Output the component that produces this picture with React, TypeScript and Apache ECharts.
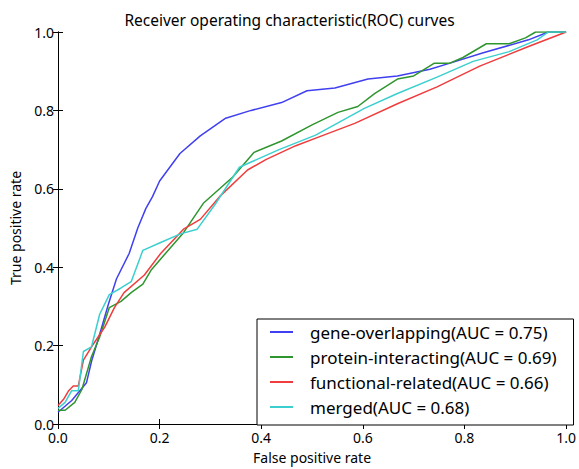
import React, { useEffect, useRef } from "react";
import * as echarts from "echarts";

const chartTitle = "Receiver operating characteristic(ROC) curves";
const xAxisName = "False positive rate";
const yAxisName = "True positive rate";

const seriesNames = [
  "gene-overlapping(AUC = 0.75)",
  "protein-interacting(AUC = 0.69)",
  "functional-related(AUC = 0.66)",
  "merged(AUC = 0.68)",
];
const seriesColors = ["#4040f0", "#2f962f", "#f03c3c", "#3ccfcf"];

const geneFpr = [0, 0.027, 0.043, 0.056, 0.066, 0.08, 0.099, 0.115, 0.14, 0.157, 0.173, 0.186, 0.2, 0.24, 0.28, 0.33, 0.38, 0.44, 0.49, 0.545, 0.61, 0.668, 0.732, 0.77, 0.837, 0.926, 0.965, 1];
const geneTpr = [0.03, 0.06, 0.085, 0.105, 0.16, 0.22, 0.305, 0.37, 0.435, 0.5, 0.55, 0.58, 0.62, 0.69, 0.735, 0.78, 0.8, 0.82, 0.85, 0.857, 0.88, 0.888, 0.905, 0.92, 0.947, 0.98, 1.0, 1.0];

const proteinFpr = [0, 0.014, 0.033, 0.047, 0.066, 0.082, 0.101, 0.124, 0.144, 0.167, 0.183, 0.208, 0.247, 0.286, 0.344, 0.386, 0.44, 0.5, 0.551, 0.59, 0.623, 0.668, 0.7, 0.74, 0.77, 0.797, 0.843, 0.888, 0.92, 0.94, 1];
const proteinTpr = [0.035, 0.035, 0.055, 0.088, 0.172, 0.222, 0.297, 0.313, 0.335, 0.357, 0.392, 0.43, 0.488, 0.563, 0.63, 0.693, 0.722, 0.763, 0.795, 0.81, 0.843, 0.88, 0.888, 0.92, 0.92, 0.935, 0.97, 0.97, 0.985, 1.0, 1.0];

const functionalFpr = [0, 0.011, 0.021, 0.03, 0.04, 0.05, 0.066, 0.092, 0.111, 0.13, 0.17, 0.202, 0.247, 0.28, 0.318, 0.373, 0.41, 0.468, 0.519, 0.584, 0.668, 0.746, 0.83, 0.926, 1];
const functionalTpr = [0.047, 0.063, 0.085, 0.097, 0.097, 0.163, 0.197, 0.247, 0.297, 0.335, 0.38, 0.435, 0.497, 0.522, 0.58, 0.648, 0.675, 0.71, 0.735, 0.767, 0.817, 0.86, 0.913, 0.963, 1.0];

const mergedFpr = [0, 0.014, 0.027, 0.04, 0.05, 0.066, 0.082, 0.101, 0.124, 0.144, 0.167, 0.202, 0.241, 0.274, 0.309, 0.357, 0.435, 0.507, 0.603, 0.668, 0.746, 0.817, 0.888, 0.943, 0.965, 1];
const mergedTpr = [0.04, 0.055, 0.085, 0.085, 0.185, 0.197, 0.28, 0.33, 0.347, 0.363, 0.443, 0.463, 0.485, 0.497, 0.56, 0.655, 0.7, 0.737, 0.805, 0.843, 0.885, 0.925, 0.95, 0.98, 1.0, 1.0];

const curves = [
  [geneFpr, geneTpr],
  [proteinFpr, proteinTpr],
  [functionalFpr, functionalTpr],
  [mergedFpr, mergedTpr],
];

const FONT = "'Noto Sans', 'Open Sans', sans-serif";

export default function App() {
  const ref = useRef<HTMLDivElement>(null);
  useEffect(() => {
    document.body.style.margin = "0";
    if (!ref.current) return;
    const chart = echarts.init(ref.current, undefined, { renderer: "svg" });
    const baseAxis = {
      type: "value" as const,
      min: 0,
      max: 1,
      interval: 0.2,
      splitLine: { show: false },
      axisLine: { show: true, lineStyle: { color: "#000", width: 1 } },
      axisTick: { show: true, inside: true, length: 5, lineStyle: { color: "#000" } },
    };
    const fmt = (v: number) => v.toFixed(1);
    chart.setOption({
      animation: false,
      backgroundColor: "#fff",
      title: {
        text: chartTitle,
        left: "center",
        top: 7,
        textStyle: { fontFamily: FONT, fontSize: 15.5, fontWeight: "normal", color: "#000" },
      },
      grid: { left: 56, right: 8, top: 32, bottom: 37, containLabel: false },
      xAxis: [
        {
          ...baseAxis,
          position: "bottom",
          name: xAxisName,
          nameLocation: "middle",
          nameGap: 26,
          nameTextStyle: { fontFamily: FONT, fontSize: 14, color: "#000" },
          axisLabel: { formatter: fmt, margin: 6, fontFamily: FONT, fontSize: 14, color: "#000" },
        },
        {
          ...baseAxis,
          position: "top",
          axisLabel: { show: false },
        },
      ],
      yAxis: [
        {
          ...baseAxis,
          position: "left",
          name: yAxisName,
          nameLocation: "middle",
          nameGap: 36,
          nameTextStyle: { fontFamily: FONT, fontSize: 14, color: "#000" },
          axisLabel: { formatter: fmt, margin: 4, fontFamily: FONT, fontSize: 14, color: "#000" },
        },
        {
          ...baseAxis,
          position: "right",
          axisLabel: { show: false },
        },
      ],
      legend: {
        orient: "vertical",
        left: 257,
        top: 319,
        padding: [3, 17, 8, 13],
        itemGap: 5,
        itemWidth: 23,
        itemHeight: 2,
        icon: "rect",
        borderColor: "#000",
        borderWidth: 1,
        backgroundColor: "#fff",
        data: seriesNames,
        textStyle: {
          fontFamily: FONT,
          fontSize: 17,
          lineHeight: 20,
          color: "#000",
          padding: [0, 0, 0, 12],
        },
      },
      series: curves.map(([xs, ys], i) => ({
        type: "line",
        name: seriesNames[i],
        data: xs.map((x, j) => [x, ys[j]]),
        showSymbol: false,
        symbol: "none",
        color: seriesColors[i],
        lineStyle: { width: 1.5, color: seriesColors[i] },
        z: 2 + i,
      })),
    });
    return () => chart.dispose();
  }, []);
  return <div ref={ref} style={{ width: 579, height: 469 }} />;
}
